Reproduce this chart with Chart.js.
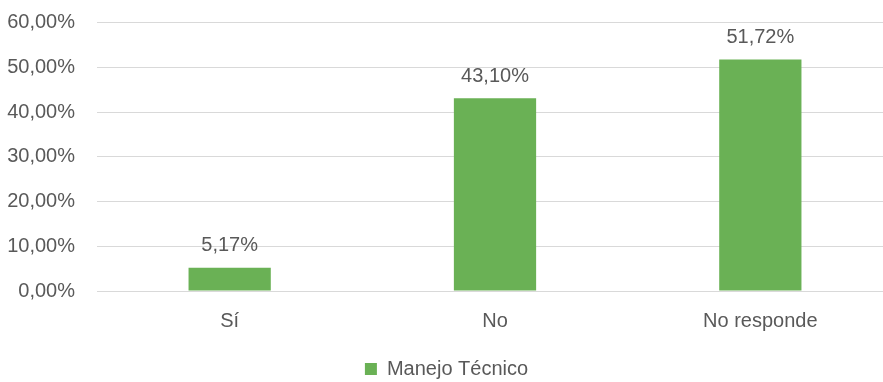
<!DOCTYPE html>
<html>
<head>
<meta charset="utf-8">
<script src="https://cdn.jsdelivr.net/npm/chart.js@4"></script>
<style>
  html, body { margin: 0; padding: 0; background: #fff; overflow: hidden; }
  #wrap { width: 893px; height: 382px; }
</style>
</head>
<body>
<div id="wrap"><canvas id="chart" width="893" height="382"></canvas></div>
<script>
const categories = ['Sí', 'No', 'No responde'];
const seriesName = 'Manejo Técnico';
const seriesValues = [5.17, 43.10, 51.72];
const yTicks = [0, 10, 20, 30, 40, 50, 60];

const FONT = "'Liberation Sans Narrow', 'Arial Narrow', 'Liberation Sans', sans-serif";
const TEXT = '#595959';
const GREEN = '#6AB155';

const fmt = (v) => v.toFixed(2).replace('.', ',') + '%';

// draws the value above each bar
const barLabels = {
  id: 'barLabels',
  afterDatasetsDraw(chart) {
    const ctx = chart.ctx;
    const meta = chart.getDatasetMeta(0);
    ctx.save();
    ctx.font = '20px ' + FONT;
    ctx.fillStyle = TEXT;
    ctx.textAlign = 'center';
    ctx.textBaseline = 'bottom';
    meta.data.forEach((bar, i) => {
      ctx.fillText(fmt(seriesValues[i]), bar.x, bar.y - 12);
    });
    ctx.restore();
  }
};

new Chart(document.getElementById('chart'), {
  type: 'bar',
  data: {
    labels: categories,
    datasets: [{
      label: seriesName,
      data: seriesValues,
      backgroundColor: GREEN,
      barPercentage: 0.31,
      categoryPercentage: 1
    }]
  },
  options: {
    responsive: false,
    animation: false,
    layout: { padding: { top: 0, right: 0, bottom: -7, left: 0 } },
    plugins: {
      legend: {
        position: 'bottom',
        labels: {
          color: TEXT,
          font: { family: FONT, size: 20 },
          boxWidth: 12,
          boxHeight: 12,
          padding: 8
        }
      },
      tooltip: { enabled: false }
    },
    scales: {
      x: {
        grid: { display: false, drawTicks: false },
        border: { display: false },
        ticks: { color: TEXT, font: { family: FONT, size: 20 }, padding: 18 }
      },
      y: {
        min: 0,
        max: 60,
        afterBuildTicks(scale) { scale.ticks = yTicks.map(v => ({ value: v })); },
        afterFit(scale) { scale.width = 97; },
        grid: { color: '#D9D9D9', lineWidth: 1, drawTicks: false },
        border: { display: false },
        ticks: {
          color: TEXT,
          // tiny lineHeight keeps the top tick from pushing the plot area down
          font: { family: FONT, size: 20, lineHeight: 0.05 },
          padding: 22,
          callback: (v) => fmt(v)
        }
      }
    }
  },
  plugins: [barLabels]
});
</script>
</body>
</html>
